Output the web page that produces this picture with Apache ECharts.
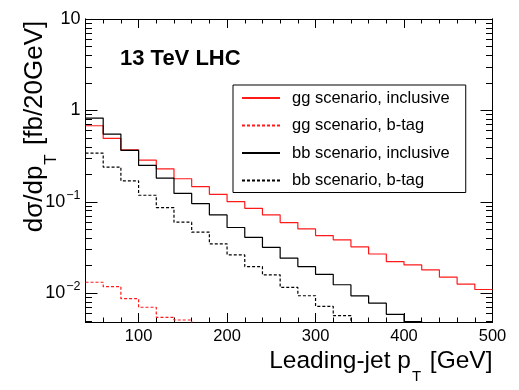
<!DOCTYPE html>
<html><head><meta charset="utf-8">
<script src="https://cdn.jsdelivr.net/npm/echarts@6/dist/echarts.min.js"></script>
<style>html,body{margin:0;padding:0;background:#fff}#c{width:519px;height:390px}</style>
</head><body><div id="c"></div>
<script>
// ---- data ----
const binEdges = [40,60,80,100,120,140,160,180,200,220,240,260,280,300,320,340,360,380,400,420,440,460,480,500];
const seriesNames = ['gg scenario, inclusive','gg scenario, b-tag','bb scenario, inclusive','bb scenario, b-tag'];
const ggInclusive = [0.68,0.494,0.371,0.286,0.23,0.179,0.147,0.121,0.1007,0.085,0.072,0.0593,0.0506,0.0428,0.0384,0.0322,0.0269,0.0222,0.0204,0.018,0.015,0.0126,0.011];
const ggBtag = [0.0132,0.0118,0.00873,0.00703,0.00546,0.0051,0.0042,null,null,null,null,null,null,null,null,null,null,null,null,null,null,null,null];
const bbInclusive = [0.825,0.551,0.365,0.25,0.182,0.124,0.0958,0.072,0.0524,0.0409,0.0318,0.0242,0.0196,0.0161,0.0124,0.00937,0.0078,0.00589,0.0049,0.004,null,null,null];
const bbBtag = [0.341,0.24,0.17,0.118,0.0866,0.0599,0.0466,0.0347,0.0263,0.0196,0.0159,0.0116,0.0094,0.0072,0.0057,0.0044,null,null,null,null,null,null,null];
const xMajorTicks = [100,200,300,400,500];
const xMinorTicks = binEdges;
const xTickLabels = ['100','200','300','400','500'];
const yMajorTicks = [0.01,0.1,1,10];
const yMinorTicks = [0.005,0.006,0.007,0.008,0.009,0.02,0.03,0.04,0.05,0.06,0.07,0.08,0.09,0.2,0.3,0.4,0.5,0.6,0.7,0.8,0.9,2,3,4,5,6,7,8,9];
const yTickLabels = ['10{sup|−2}','10{sup|−1}','1','10'];
const xTitle = '{b|Leading-jet p}{sub|T}{b| [GeV]}';
const yTitle = '{b|dσ/dp}{sub|T}{b| [fb/20GeV]}';
const annotation = '13 TeV LHC';

const FONT = 'Liberation Sans';
const X_MIN = 40, X_MAX = 500, Y_MIN = 0.00485, Y_MAX = 10;

function stepData(vals) {
  const d = vals.map((v, i) => [binEdges[i], v]);
  d.push([binEdges[vals.length], vals[vals.length - 1]]);
  return d;
}

function xAxisDef(pos, ticks, len, withLabels, withName) {
  const a = {
    type: 'value', min: X_MIN, max: X_MAX, position: pos,
    axisLine: { show: true, onZero: false, lineStyle: { color: '#000', width: 1 } },
    axisTick: { show: true, inside: true, length: len, customValues: ticks, lineStyle: { color: '#000', width: 1 } },
    axisLabel: { show: false },
    splitLine: { show: false }
  };
  if (withLabels) {
    a.axisLabel = {
      show: true, customValues: xMajorTicks, margin: 6, color: '#000', fontSize: 16.5, fontFamily: FONT,
      formatter: v => { const i = xMajorTicks.indexOf(v); return i >= 0 ? xTickLabels[i] : ''; }
    };
  }
  if (withName) {
    a.name = xTitle;
    a.nameLocation = 'end';
    a.nameGap = 0;
    a.nameMoveOverlap = false;
    a.nameTextStyle = {
      align: 'right', verticalAlign: 'top', padding: [27, 0, 0, 0],
      rich: {
        b: { fontSize: 24.5, lineHeight: 24, verticalAlign: 'top', fontFamily: FONT, color: '#000' },
        sub: { fontSize: 15, lineHeight: 15, verticalAlign: 'top', padding: [20, 2, 0, 1], fontFamily: FONT, color: '#000' }
      }
    };
  }
  return a;
}

function yAxisDef(pos, ticks, len, withLabels, withName) {
  const a = {
    type: 'log', logBase: 10, min: Y_MIN, max: Y_MAX, position: pos,
    axisLine: { show: true, onZero: false, lineStyle: { color: '#000', width: 1 } },
    axisTick: { show: true, inside: true, length: len, customValues: ticks, lineStyle: { color: '#000', width: 1 } },
    axisLabel: { show: false },
    splitLine: { show: false }, minorTick: { show: false }
  };
  if (withLabels) {
    a.axisLabel = {
      show: true, customValues: yMajorTicks, margin: 5, color: '#000', fontSize: 18, fontFamily: FONT,
      formatter: v => {
        for (let i = 0; i < yMajorTicks.length; i++) {
          if (Math.abs(Math.log10(v) - Math.log10(yMajorTicks[i])) < 1e-6) return yTickLabels[i];
        }
        return '';
      },
      rich: { sup: { fontSize: 12.5, fontFamily: FONT, color: '#000', padding: [0, 0, 13, 1] } }
    };
  }
  if (withName) {
    a.name = yTitle;
    a.nameLocation = 'middle';
    a.nameRotate = 90;
    a.nameGap = 36;
    a.nameMoveOverlap = false;
    a.nameTextStyle = {
      padding: [0, 0, 0, 88],
      rich: {
        b: { fontSize: 26, lineHeight: 28, verticalAlign: 'top', fontFamily: FONT, color: '#000' },
        sub: { fontSize: 17, lineHeight: 17, verticalAlign: 'top', padding: [21, 2, 0, 1], fontFamily: FONT, color: '#000' }
      }
    };
  }
  return a;
}

const styles = [
  { color: '#ff1a1a', type: 'solid' },
  { color: '#ff1a1a', type: [3, 2] },
  { color: '#000000', type: 'solid' },
  { color: '#000000', type: [3, 2] }
];
const dataSets = [ggInclusive, ggBtag, bbInclusive, bbBtag];

const chart = echarts.init(document.getElementById('c'), null, { renderer: 'canvas' });
chart.setOption({
  animation: false,
  backgroundColor: '#fff',
  textStyle: { fontFamily: FONT },
  grid: { left: 85.5, top: 19, width: 407, height: 303, containLabel: false, outerBoundsMode: 'none' },
  title: {
    text: annotation, left: 120, top: 48, padding: 0,
    textStyle: { fontSize: 22, fontWeight: 'bold', color: '#000', fontFamily: FONT }
  },
  legend: {
    orient: 'vertical', left: 233, top: 85,
    padding: [3, 16, 2, 8], itemGap: 7.5, itemWidth: 38, itemHeight: 14,
    borderColor: '#000', borderWidth: 1, backgroundColor: '#fff', borderRadius: 0,
    itemStyle: { opacity: 0, color: 'transparent', borderColor: 'transparent', borderWidth: 0 },
    textStyle: { fontSize: 16.5, color: '#000', fontFamily: FONT, lineHeight: 20, padding: [0, 0, 0, 7] },
    data: seriesNames
  },
  xAxis: [
    xAxisDef('bottom', xMajorTicks, 9, true, true),
    xAxisDef('bottom', xMinorTicks, 4.5, false, false),
    xAxisDef('top', xMajorTicks, 9, false, false),
    xAxisDef('top', xMinorTicks, 4.5, false, false)
  ],
  yAxis: [
    yAxisDef('left', yMajorTicks, 12, true, true),
    yAxisDef('left', yMinorTicks, 6.5, false, false),
    yAxisDef('right', yMajorTicks, 12, false, false),
    yAxisDef('right', yMinorTicks, 6.5, false, false)
  ],
  series: dataSets.map((vals, i) => ({
    name: seriesNames[i], type: 'line', step: 'end', xAxisIndex: 0, yAxisIndex: 0,
    data: stepData(vals), symbol: 'none', showSymbol: false, clip: true, connectNulls: false,
    lineStyle: { color: styles[i].color, width: 1.2, type: styles[i].type },
    itemStyle: { color: styles[i].color }
  }))
});
</script></body></html>
